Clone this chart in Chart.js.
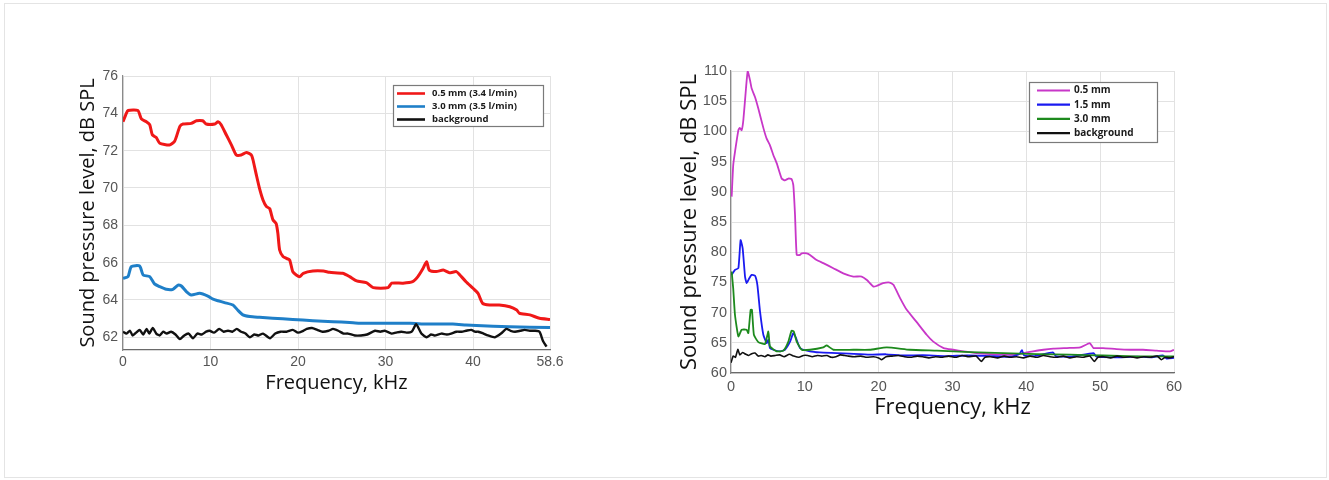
<!DOCTYPE html>
<html>
<head>
<meta charset="utf-8">
<script src="https://cdn.jsdelivr.net/npm/chart.js@4.4.1/dist/chart.umd.min.js"></script>
<style>
  html, body { margin: 0; padding: 0; background: #fff; }
  body { width: 1329px; height: 480px; position: relative; overflow: hidden; }
  #frame { position: absolute; left: 4px; top: 3px; width: 1321px; height: 473px; border: 1px solid #e4e4e4; }
  #c1 { position: absolute; left: 70px; top: 60px; }
  #c2 { position: absolute; left: 670px; top: 55px; }
</style>
</head>
<body>
<div id="frame"></div>
<canvas id="c1" width="500" height="340"></canvas>
<canvas id="c2" width="530" height="375"></canvas>
<script>
// ---- left panel: nozzle diameter at similar flow ----
const leftLabels = ['0.5 mm (3.4 l/min)', '3.0 mm (3.5 l/min)', 'background'];
const leftXTicks = [0, 10, 20, 30, 40, 48.8];
const leftXTickLabels = ['0', '10', '20', '30', '40', '58.6'];
const leftYTicks = [62, 64, 66, 68, 70, 72, 74, 76];

const leftRed = [
  [0,73.55],[0.38,74.0],[0.57,74.15],[1.7,74.15],[2.1,73.7],[2.67,73.55],[3.05,73.4],[3.35,72.85],
  [3.8,72.7],[4.2,72.4],[5.3,72.3],[5.9,72.5],[6.5,73.3],[6.86,73.43],[7.8,73.46],[8.4,73.6],
  [9.1,73.6],[9.5,73.43],[10.5,73.43],[10.86,73.55],[11.2,73.4],[11.8,72.85],[12.4,72.3],[12.95,71.77],
  [13.5,71.77],[14.1,71.9],[14.67,71.77],[14.86,71.5],[15.24,70.7],[15.6,69.98],[16.0,69.36],[16.4,69.0],
  [16.76,68.9],[17.14,68.29],[17.5,68.1],[17.7,67.57],[17.9,66.68],[18.3,66.32],[18.67,66.23],[19.05,66.14],
  [19.4,65.52],[19.8,65.34],[20.2,65.25],[20.6,65.43],[21.7,65.55],[22.9,65.55],[23.6,65.48],[25.1,65.43],
  [25.9,65.25],[26.7,65.02],[27.8,64.93],[28.6,64.66],[30.3,64.66],[30.7,64.9],[32.0,64.9],[33.1,64.98],
  [33.7,65.25],[34.3,65.7],[34.7,66.05],[35.0,65.6],[35.8,65.52],[36.6,65.6],[37.3,65.46],[38.1,65.52],
  [38.5,65.34],[39.2,64.98],[40.0,64.63],[40.57,64.36],[41.1,63.82],[41.9,63.73],[43.0,63.73],[44.2,63.64],
  [45.0,63.46],[45.3,63.29],[46.5,63.2],[47.6,63.02],[48.8,62.96]
];
const leftBlue = [
  [0,65.16],[0.57,65.25],[0.95,65.79],[1.9,65.82],[2.3,65.34],[3.05,65.25],[3.6,64.86],[4.2,64.71],
  [4.95,64.57],[5.7,64.57],[6.3,64.8],[6.67,64.75],[7.24,64.45],[7.8,64.27],[8.76,64.36],[9.7,64.21],
  [10.3,64.04],[10.86,63.96],[11.6,63.86],[12.57,63.73],[13.1,63.46],[13.7,63.2],[14.5,63.11],[15.6,63.07],
  [17.1,63.02],[19.4,62.96],[21.7,62.89],[24.0,62.84],[25.9,62.79],[27.0,62.75],[29.0,62.75],[32.8,62.75],
  [34.7,62.71],[37.7,62.71],[39.2,62.66],[40.4,62.63],[44.2,62.57],[48.8,62.52]
];
const leftBlack = [
  [0,62.3],[0.4,62.2],[0.8,62.35],[1.1,62.1],[1.5,62.25],[1.9,62.4],[2.3,62.15],[2.7,62.45],[3.0,62.2],
  [3.4,62.5],[3.8,62.2],[4.2,62.1],[4.6,62.3],[5.0,62.2],[5.5,62.3],[6.0,62.15],[6.5,61.9],[7.0,62.1],
  [7.5,62.2],[8.0,61.95],[8.5,62.2],[9.0,62.15],[9.5,62.3],[9.9,62.35],[10.4,62.25],[11.0,62.45],[11.5,62.3],
  [12.0,62.35],[12.5,62.3],[13.0,62.45],[13.5,62.3],[14.0,62.2],[14.5,62.0],[15.0,62.15],[15.5,62.1],
  [16.0,62.2],[16.8,61.95],[17.4,62.2],[18.0,62.3],[18.7,62.3],[19.4,62.4],[20.0,62.25],[20.6,62.35],
  [21.0,62.45],[21.6,62.5],[22.2,62.4],[22.8,62.3],[23.5,62.35],[24.0,62.45],[24.6,62.35],[25.2,62.2],
  [25.7,62.2],[26.5,62.1],[27.2,62.1],[27.9,62.15],[28.8,62.35],[29.4,62.3],[29.9,62.35],[30.7,62.2],
  [31.2,62.25],[31.8,62.3],[32.4,62.25],[33.0,62.3],[33.5,62.7],[34.1,62.2],[34.7,62.0],[35.2,62.15],
  [35.6,62.1],[36.4,62.2],[37.0,62.15],[37.5,62.2],[38.1,62.3],[38.7,62.3],[39.2,62.35],[39.8,62.4],
  [40.2,62.3],[40.6,62.3],[41.2,62.2],[41.7,62.1],[42.5,62.0],[43.2,62.2],[43.8,62.45],[44.3,62.35],
  [44.8,62.3],[45.4,62.35],[45.9,62.4],[46.5,62.35],[47.05,62.35],[47.6,62.3],[48.0,61.8],[48.4,61.5]
];

// ---- right panel: three nozzle diameters ----
const rightLabels = ['0.5 mm', '1.5 mm', '3.0 mm', 'background'];
const rightXTicks = [0, 10, 20, 30, 40, 50, 60];
const rightYTicks = [60, 65, 70, 75, 80, 85, 90, 95, 100, 105, 110];

const rightMagenta = [
  [0.09,89.2],[0.3,94.4],[0.54,96.6],[1.0,100.2],[1.2,100.6],[1.44,100.2],[1.67,101.85],[2.03,107.1],
  [2.26,109.95],[2.57,108.5],[2.8,107.1],[3.25,105.7],[3.7,103.8],[4.4,100.5],[4.83,98.8],[5.28,97.7],
  [5.73,96.1],[6.2,94.7],[6.86,92.2],[7.3,91.9],[7.77,92.2],[8.2,92.1],[8.44,91.1],[8.67,86.2],
  [8.9,79.55],[9.35,79.55],[9.57,79.8],[10.25,79.8],[10.7,79.55],[11.6,78.7],[12.5,78.2],[13.86,77.35],
  [15.2,76.5],[16.57,75.97],[17.7,75.97],[18.4,75.4],[19.3,74.3],[19.7,74.4],[20.6,74.87],[21.5,74.98],
  [22.0,74.6],[22.9,72.4],[23.8,70.46],[25.1,68.5],[26.5,66.33],[27.4,65.2],[28.8,64.13],[30.1,63.85],
  [31.5,63.58],[33.3,63.3],[35.1,63.14],[36.9,63.03],[38.7,63.03],[39.6,63.3],[40.9,63.58],[42.3,63.85],
  [43.66,64.02],[45.5,64.13],[47.3,64.24],[48.6,64.95],[49.1,64.13],[50.4,64.13],[52.2,63.96],[54.0,63.85],
  [55.8,63.85],[57.65,63.7],[59.46,63.58],[60,63.85]
];
const rightBlue = [
  [0.09,76.24],[0.54,77.07],[1.0,77.35],[1.3,82.0],[1.58,80.65],[1.9,75.97],[2.12,74.87],[2.48,75.7],
  [2.8,76.24],[3.25,76.13],[3.57,74.6],[3.93,70.2],[4.38,66.33],[4.83,64.96],[5.06,65.5],[5.28,64.13],
  [5.73,63.85],[6.64,63.58],[7.3,63.85],[8.0,65.2],[8.44,66.6],[8.8,65.8],[9.35,64.13],[10.7,63.58],
  [12.0,63.4],[14.3,63.3],[16.0,63.2],[18.8,63.03],[21.0,63.1],[23.3,62.9],[26.0,62.95],[29.0,62.8],
  [32.0,62.9],[35.0,62.8],[38.0,62.7],[39.1,63.2],[39.4,63.8],[39.7,62.9],[41.0,62.8],[43.6,63.4],
  [44.0,62.8],[46.0,62.7],[49.1,63.3],[49.5,62.7],[52.0,62.6],[55.0,62.7],[57.0,62.6],[58.5,62.9],
  [59.0,62.4],[60,62.5]
];
const rightGreen = [
  [0.09,76.8],[0.3,74.0],[0.54,69.6],[1.0,66.05],[1.44,67.16],[2.12,67.16],[2.35,66.6],[2.66,70.46],
  [2.84,70.46],[3.1,66.33],[3.7,65.12],[4.6,64.8],[5.06,66.88],[5.28,64.4],[6.2,63.58],[7.1,63.7],
  [7.77,65.2],[8.2,66.99],[8.5,66.88],[8.9,65.2],[9.57,63.85],[10.7,63.85],[12.5,64.24],[12.96,64.57],
  [13.86,63.85],[16.57,63.85],[18.8,63.85],[21.1,64.24],[24.2,63.85],[27.9,63.7],[32.4,63.47],[36.9,63.3],
  [41.4,63.14],[45.9,63.03],[50.4,62.9],[54.9,62.75],[60,62.75]
];
const rightBlack = [
  [0,61.7],[0.3,62.8],[0.6,62.6],[0.93,63.9],[1.2,63.0],[1.56,63.4],[2.0,63.1],[2.4,62.9],[2.8,63.2],
  [3.25,63.3],[3.7,62.8],[4.1,62.9],[4.6,62.7],[5.0,63.0],[5.4,62.8],[6.0,62.9],[6.6,63.0],[7.2,62.7],
  [7.9,63.1],[8.5,62.8],[9.2,62.6],[9.8,62.9],[10.4,62.9],[11.0,62.7],[11.7,62.9],[12.3,62.8],[13.0,62.9],
  [13.6,62.6],[14.2,62.7],[14.8,63.0],[15.4,62.9],[15.9,62.8],[16.7,62.7],[17.6,62.8],[18.4,62.6],
  [19.3,62.7],[20.0,62.5],[20.4,62.2],[21.0,62.7],[21.8,62.8],[22.7,62.9],[23.5,62.7],[24.3,62.6],
  [25.2,62.8],[26.0,62.7],[26.8,62.5],[27.7,62.7],[28.5,62.6],[29.5,62.8],[30.4,62.6],[31.3,62.9],
  [32.2,62.7],[33.2,62.8],[33.9,61.9],[34.4,62.6],[35.2,62.7],[36.1,62.5],[37.0,62.8],[37.8,62.6],
  [38.7,62.7],[39.6,62.5],[40.5,62.8],[41.4,62.6],[42.3,62.9],[43.2,62.7],[44.1,62.6],[45.0,62.8],
  [45.9,62.5],[46.8,62.7],[47.7,62.6],[48.6,62.8],[49.2,61.9],[49.7,62.6],[50.5,62.7],[51.4,62.5],
  [52.3,62.8],[53.2,62.6],[54.1,62.7],[55.0,62.5],[55.9,62.7],[56.8,62.6],[57.7,62.8],[58.3,62.2],
  [58.8,62.6],[59.4,62.5],[60,62.7]
];

const pts = arr => arr.map(([x, y]) => ({ x, y }));

// legend box drawn inside the plot, like the original figure
const boxLegend = {
  id: 'boxLegend',
  afterDraw(chart, args, o) {
    const { ctx, chartArea } = chart;
    const x = Math.round(chartArea.right - o.right - o.width);
    const y = Math.round(chartArea.top + o.top);
    ctx.save();
    ctx.fillStyle = '#fff';
    ctx.fillRect(x, y, o.width, o.height);
    ctx.strokeStyle = '#7a7a7a';
    ctx.lineWidth = 1.2;
    ctx.strokeRect(x + 0.5, y + 0.5, o.width, o.height);
    ctx.font = o.font;
    ctx.textBaseline = 'middle';
    chart.data.datasets.forEach((ds, i) => {
      const ry = y + o.firstRow + i * o.rowGap;
      ctx.strokeStyle = ds.borderColor;
      ctx.lineWidth = o.lineWidth;
      ctx.beginPath();
      ctx.moveTo(x + o.lineStart, ry);
      ctx.lineTo(x + o.lineStart + o.lineLen, ry);
      ctx.stroke();
      ctx.fillStyle = '#1a1a1a';
      ctx.fillText(ds.label, x + o.textStart, ry);
    });
    ctx.restore();
  }
};

const gridCol = '#e2e2e2';
const tickCol = '#555';
const titleFont = 'Open Sans';
const tickFont = 'Liberation Sans';

// chart 1
new Chart(document.getElementById('c1'), {
  type: 'line',
  data: {
    datasets: [
      { label: leftLabels[0], data: pts(leftRed), borderColor: '#f01818', borderWidth: 3, order: 2 },
      { label: leftLabels[1], data: pts(leftBlue), borderColor: '#1f7fc8', borderWidth: 3, order: 1 },
      { label: leftLabels[2], data: pts(leftBlack), borderColor: '#111', borderWidth: 2.4, order: 0 }
    ]
  },
  options: {
    responsive: false,
    animation: false,
    devicePixelRatio: 1,
    elements: { point: { radius: 0 }, line: { tension: 0.2, borderJoinStyle: 'round' } },
    layout: { padding: { top: 16, right: 20, bottom: 0, left: 0 } },
    plugins: {
      legend: { display: false },
      tooltip: { enabled: false },
      boxLegend: {
        right: 7, top: 9, width: 150, height: 41,
        firstRow: 8.5, rowGap: 13, lineStart: 4, lineLen: 28, textStart: 39, lineWidth: 2.6,
        font: 'bold 9.5px "Open Sans"'
      }
    },
    scales: {
      x: {
        type: 'linear', min: 0, max: 48.8,
        afterFit: s => { s.height = 50; },
        afterBuildTicks: s => { s.ticks = leftXTicks.map(v => ({ value: v })); },
        grid: { color: gridCol, drawTicks: false },
        border: { color: '#6a6a6a', width: 1.2 },
        ticks: {
          padding: 4, color: tickCol, font: { family: tickFont, size: 14 },
          maxRotation: 0, autoSkip: false,
          callback: (v) => leftXTickLabels[leftXTicks.indexOf(v)]
        },
        title: { display: true, text: 'Frequency, kHz', color: '#111',
          font: { family: titleFont, size: 20 }, padding: { top: 0, bottom: 5 } }
      },
      y: {
        min: 61.32, max: 76,
        afterFit: s => { s.width = 53; },
        afterBuildTicks: s => { s.ticks = leftYTicks.map(v => ({ value: v })); },
        grid: { color: gridCol, drawTicks: false },
        border: { color: '#8a8a8a', width: 1.2 },
        ticks: { padding: 5, color: tickCol, font: { family: tickFont, size: 14 } },
        title: { display: true, text: 'Sound pressure level, dB SPL', color: '#111',
          font: { family: titleFont, size: 20 }, padding: { top: 6, bottom: 0 } }
      }
    }
  },
  plugins: [boxLegend]
});

// chart 2
new Chart(document.getElementById('c2'), {
  type: 'line',
  data: {
    datasets: [
      { label: rightLabels[0], data: pts(rightMagenta), borderColor: '#c837c8', borderWidth: 1.8, order: 3 },
      { label: rightLabels[1], data: pts(rightBlue), borderColor: '#1a1af0', borderWidth: 1.8, order: 2 },
      { label: rightLabels[2], data: pts(rightGreen), borderColor: '#1d8a1d', borderWidth: 1.8, order: 1 },
      { label: rightLabels[3], data: pts(rightBlack), borderColor: '#111', borderWidth: 1.6, order: 0 }
    ]
  },
  options: {
    responsive: false,
    animation: false,
    devicePixelRatio: 1,
    elements: { point: { radius: 0 }, line: { tension: 0.15, borderJoinStyle: 'round' } },
    layout: { padding: { top: 16, right: 26, bottom: 0, left: 0 } },
    plugins: {
      legend: { display: false },
      tooltip: { enabled: false },
      boxLegend: {
        right: 17, top: 11, width: 128, height: 60,
        firstRow: 8.5, rowGap: 14.2, lineStart: 8, lineLen: 33, textStart: 45, lineWidth: 2.2,
        font: 'bold 10px "Open Sans"'
      }
    },
    scales: {
      x: {
        type: 'linear', min: 0, max: 60,
        afterFit: s => { s.height = 57; },
        afterBuildTicks: s => { s.ticks = rightXTicks.map(v => ({ value: v })); },
        grid: { color: gridCol, drawTicks: false },
        border: { color: '#6a6a6a', width: 1.2 },
        ticks: { padding: 5, color: tickCol, font: { family: tickFont, size: 14.5 }, maxRotation: 0, autoSkip: false },
        title: { display: true, text: 'Frequency, kHz', color: '#111',
          font: { family: titleFont, size: 22 }, padding: { top: 0, bottom: 9 } }
      },
      y: {
        min: 60, max: 110,
        afterFit: s => { s.width = 61; },
        afterBuildTicks: s => { s.ticks = rightYTicks.map(v => ({ value: v })); },
        grid: { color: gridCol, drawTicks: false },
        border: { color: '#8a8a8a', width: 1.2 },
        ticks: { padding: 4, color: tickCol, font: { family: tickFont, size: 14.5 } },
        title: { display: true, text: 'Sound pressure level, dB SPL', color: '#111',
          font: { family: titleFont, size: 22 }, padding: { top: 7, bottom: 0 } }
      }
    }
  },
  plugins: [boxLegend]
});
</script>
</body>
</html>
